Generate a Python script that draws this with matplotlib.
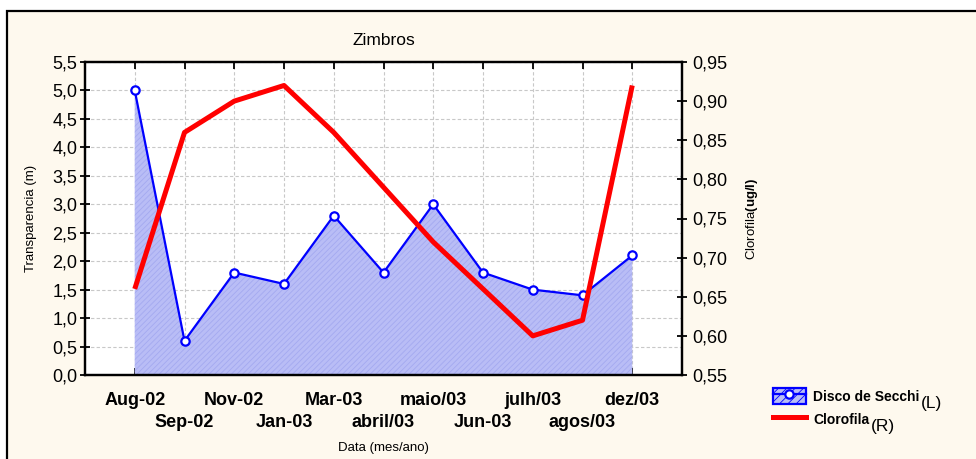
import numpy as np
import matplotlib
matplotlib.use("Agg")
from matplotlib import pyplot as plt
from matplotlib.patches import Patch, Rectangle
from matplotlib.lines import Line2D
from matplotlib.transforms import ScaledTranslation

# DATA
months = ["Aug-02", "Sep-02", "Nov-02", "Jan-03", "Mar-03", "abril/03",
          "maio/03", "Jun-03", "julh/03", "agos/03", "dez/03"]
secchi = [5.0, 0.6, 1.8, 1.6, 2.8, 1.8, 3.0, 1.8, 1.5, 1.4, 2.1]
clorofila = [0.66, 0.86, 0.90, 0.92, 0.86, 0.79, 0.72, 0.66, 0.60, 0.62, 0.92]

plt.rcParams["font.family"] = ["Liberation Sans", "DejaVu Sans"]
plt.rcParams["mathtext.fontset"] = "custom"
plt.rcParams["mathtext.rm"] = "Liberation Sans"
plt.rcParams["mathtext.bf"] = "Liberation Sans:bold"
plt.rcParams["hatch.linewidth"] = 0.6

fig = plt.figure(figsize=(9.76, 4.59), dpi=100, facecolor="white")
fig.patches.append(Rectangle((7 / 976, -0.1), 1.2, 1.1 - 11 / 459, transform=fig.transFigure,
                             facecolor="#fef9ee", edgecolor="black", linewidth=1.6, zorder=-10))

ax = fig.add_axes([85 / 976, 1 - 375 / 459, (682 - 85) / 976, (375 - 62) / 459])
ax.set_facecolor("white")
x = np.arange(len(months))

# fill + line for Secchi (left axis)
ax.fill_between(x, 0, secchi, facecolor="#b9bdf6", edgecolor="#a4a9f0", hatch="//////",
                linewidth=0, zorder=2)
ax.plot(x, secchi, color="blue", linewidth=1.6, marker="o", markersize=6,
        markerfacecolor="white", markeredgecolor="blue", markeredgewidth=1.6, zorder=4)

ax.set_xlim(-1, 11)
ax.set_ylim(0, 5.5)
ax.set_yticks(np.arange(0, 5.51, 0.5))
ax.set_yticklabels([f"{v:.1f}".replace(".", ",") for v in np.arange(0, 5.51, 0.5)], fontsize=13)
ax.set_xticks(x)
ax.set_xticklabels(months, fontsize=13, fontweight="bold")
ax.tick_params(axis="x", direction="in", top=True, length=5, width=1.3, pad=12)
ax.tick_params(axis="y", direction="inout", length=7, width=1.3, pad=2)
# alternate labels on a second row
for i, lab in enumerate(ax.get_xticklabels()):
    if i % 2 == 1:
        lab.set_transform(lab.get_transform() + ScaledTranslation(0, -0.22, fig.dpi_scale_trans))
ax.grid(True, color="#c8c8c8", linestyle=(0, (3, 2)), linewidth=0.8, zorder=0)
ax.set_axisbelow(True)
for s in ax.spines.values():
    s.set_linewidth(1.6)

ax.set_title("Zimbros", fontsize=12.5, pad=12)
ax.set_xlabel("Data (mes/ano)", fontsize=9.5)
ax.xaxis.set_label_coords(0.5, -0.215)
ax.set_ylabel("Transparencia (m)", fontsize=9.5)
ax.yaxis.set_label_coords(-0.081, 0.5)

# Clorofila (right axis)
ax2 = ax.twinx()
ax2.plot(x, clorofila, color="#ff0000", linewidth=3.6, zorder=5, solid_capstyle="butt")
ax2.set_ylim(0.55, 0.95)
rt = np.arange(0.55, 0.951, 0.05)
ax2.set_yticks(rt)
ax2.set_yticklabels([f"{v:.2f}".replace(".", ",") for v in rt], fontsize=13)
ax2.tick_params(axis="y", direction="inout", length=7, width=1.3, pad=4)
ax2.set_ylabel(r"Clorofila$\mathbf{(ug/l)}$", fontsize=9.5, labelpad=12)
for s in ax2.spines.values():
    s.set_linewidth(1.6)

# LEGEND
h1 = (Patch(facecolor="#b9bdf6", edgecolor="blue", hatch="////", linewidth=1.6),
      Line2D([], [], color="blue", linewidth=1.6, marker="o", markersize=6,
             markerfacecolor="white", markeredgecolor="blue", markeredgewidth=1.6))
h2 = Line2D([], [], color="#ff0000", linewidth=3.6)
leg = fig.legend([h1, h2], ["Disco de Secchi", "Clorofila"], loc="upper left",
                 bbox_to_anchor=(760 / 976, 1 - 375 / 459), frameon=False,
                 prop={"weight": "bold", "size": 10}, handlelength=2.4, handleheight=1.5,
                 handletextpad=0.55, labelspacing=0.45)

fig.canvas.draw()
inv = fig.transFigure.inverted()
for t, suffix in zip(leg.get_texts(), ["(L)", "(R)"]):
    bb = t.get_window_extent()
    x1, y0 = inv.transform((bb.x1, bb.y0))
    fig.text(x1 + 0.001, y0 - 0.016, suffix, fontsize=12.5, ha="left", va="bottom")

fig.savefig("out.png", dpi=100, facecolor=fig.get_facecolor())
